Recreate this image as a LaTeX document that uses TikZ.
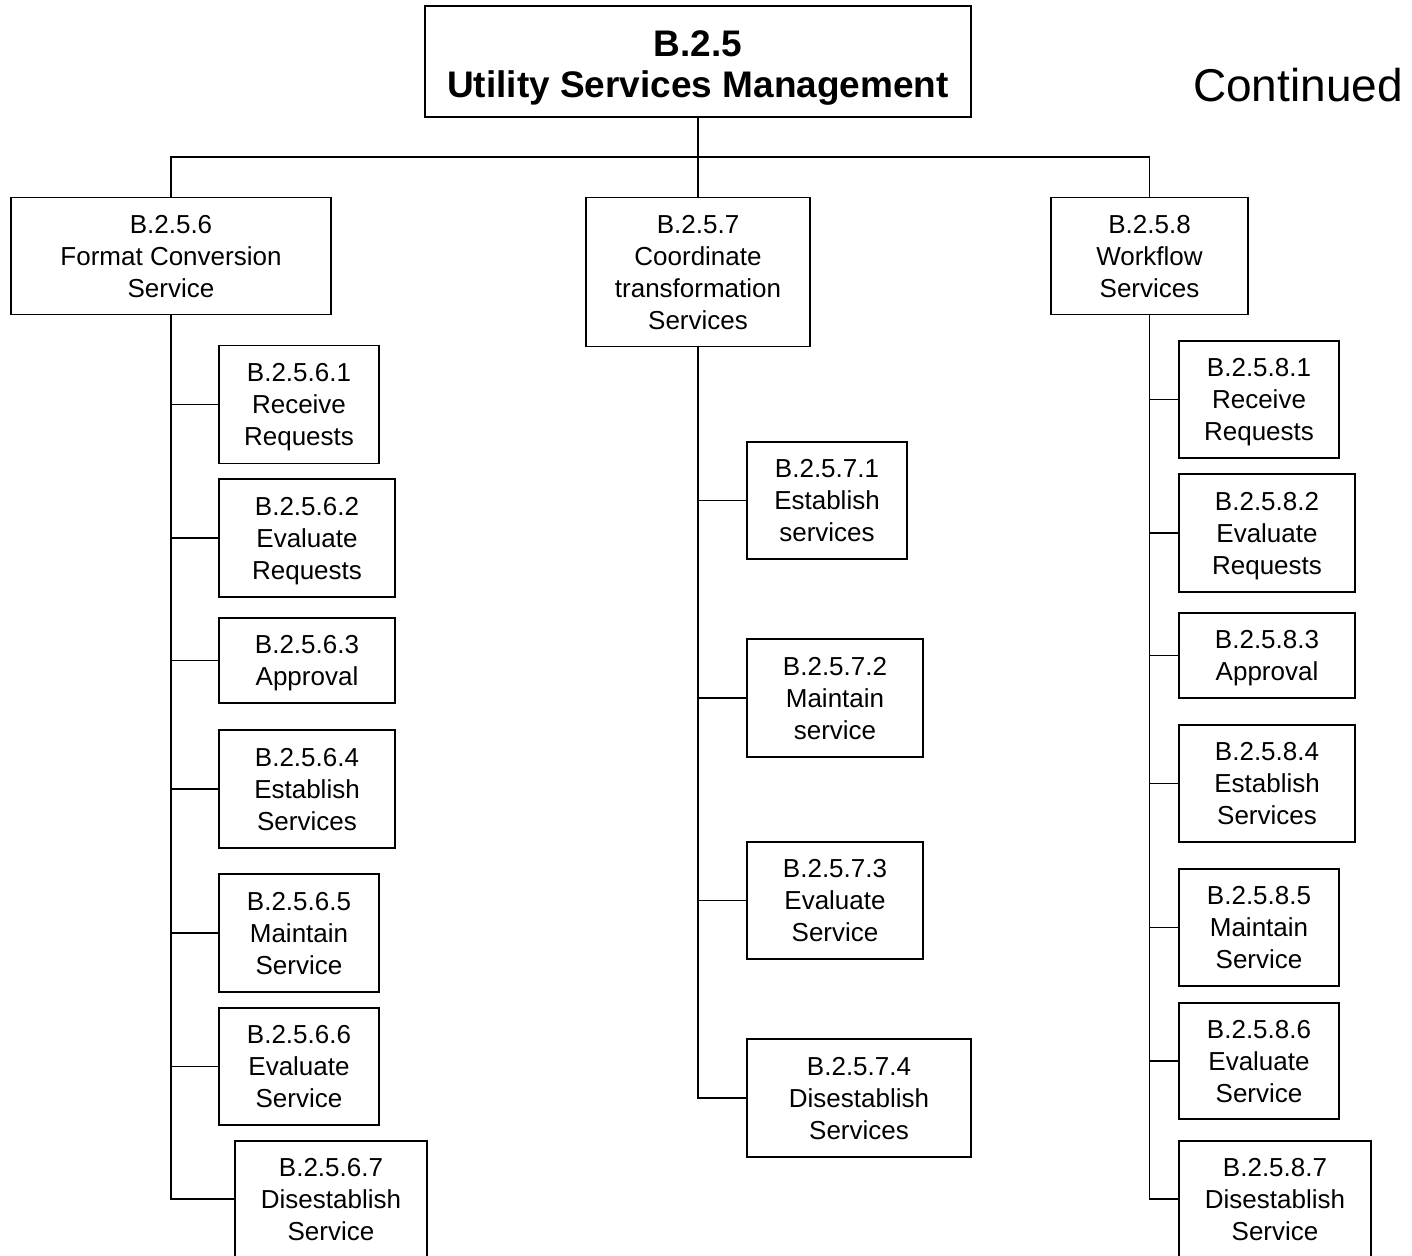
\documentclass[tikz,border=0pt]{standalone}
\usepackage{fontspec}
\setmainfont{Liberation Sans}
\begin{document}
\begin{tikzpicture}[x=1pt,y=-1pt,
  box/.style={draw, line width=1.5pt, inner sep=0pt, align=center, text depth=-2pt,
    font=\fontsize{26}{32}\selectfont},
  rootbox/.style={draw, line width=1.6pt, inner sep=0pt, align=center, text height=79.5pt,
    font=\fontsize{37}{41}\selectfont\bfseries},
  conn/.style={line width=1.5pt}]
\useasboundingbox (0,0) rectangle (1412,1255);
\clip (0,0) rectangle (1412,1255);
% root
\node[rootbox, minimum width=546pt, minimum height=111pt] (root) at (698,61.5) {B.2.5\\Utility Services Management};
\node[font=\fontsize{46}{50}\selectfont, inner sep=0pt] (cont) at (1298,85) {Continued};
% level 1
\node[box, minimum width=320pt, minimum height=117pt] (n6) at (171,256) {B.2.5.6\\Format Conversion\\Service};
\node[box, minimum width=224pt, minimum height=149pt] (n7) at (698,272) {B.2.5.7\\Coordinate\\transformation\\Services};
\node[box, minimum width=197pt, minimum height=117pt] (n8) at (1149.5,256) {B.2.5.8\\Workflow\\Services};
% left column
\node[box, minimum width=160pt, minimum height=118pt] (n61) at (299,404.5) {B.2.5.6.1\\Receive\\Requests};
\node[box, minimum width=176pt, minimum height=118pt] (n62) at (307,538) {B.2.5.6.2\\Evaluate\\Requests};
\node[box, minimum width=176pt, minimum height=85pt] (n63) at (307,660.5) {B.2.5.6.3\\Approval};
\node[box, minimum width=176pt, minimum height=118pt] (n64) at (307,789) {B.2.5.6.4\\Establish\\Services};
\node[box, minimum width=160pt, minimum height=118pt] (n65) at (299,933) {B.2.5.6.5\\Maintain\\Service};
\node[box, minimum width=160pt, minimum height=117pt] (n66) at (299,1066.5) {B.2.5.6.6\\Evaluate\\Service};
\node[box, minimum width=192pt, minimum height=116pt] (n67) at (331,1199) {B.2.5.6.7\\Disestablish\\Service};
% middle column
\node[box, minimum width=160pt, minimum height=117pt] (n71) at (827,500.5) {B.2.5.7.1\\Establish\\services};
\node[box, minimum width=176pt, minimum height=118pt] (n72) at (835,698) {B.2.5.7.2\\Maintain\\service};
\node[box, minimum width=176pt, minimum height=117pt] (n73) at (835,900.5) {B.2.5.7.3\\Evaluate\\Service};
\node[box, minimum width=224pt, minimum height=118pt] (n74) at (859,1098) {B.2.5.7.4\\Disestablish\\Services};
% right column
\node[box, minimum width=160pt, minimum height=117pt] (n81) at (1259,399.5) {B.2.5.8.1\\Receive\\Requests};
\node[box, minimum width=176pt, minimum height=118pt] (n82) at (1267,533) {B.2.5.8.2\\Evaluate\\Requests};
\node[box, minimum width=176pt, minimum height=85pt] (n83) at (1267,655.5) {B.2.5.8.3\\Approval};
\node[box, minimum width=176pt, minimum height=117pt] (n84) at (1267,783.5) {B.2.5.8.4\\Establish\\Services};
\node[box, minimum width=160pt, minimum height=117pt] (n85) at (1259,927.5) {B.2.5.8.5\\Maintain\\Service};
\node[box, minimum width=160pt, minimum height=116pt] (n86) at (1259,1061) {B.2.5.8.6\\Evaluate\\Service};
\node[box, minimum width=192pt, minimum height=116pt] (n87) at (1275,1199) {B.2.5.8.7\\Disestablish\\Service};
% connectors
\coordinate (bus) at (698,157);
\draw[conn] (root.south) -- (n7.north);
\draw[conn] (n6.north) -- (n6.north |- bus) -| (n8.north);
\draw[conn] (n6.south) |- (n67.west);
\foreach \c in {n61,n62,n63,n64,n65,n66}
  \draw[conn] (\c.west) -- (\c.west -| n6.south);
\draw[conn] (n7.south) |- (n74.west);
\foreach \c in {n71,n72,n73}
  \draw[conn] (\c.west) -- (\c.west -| n7.south);
\draw[conn] (n8.south) |- (n87.west);
\foreach \c in {n81,n82,n83,n84,n85,n86}
  \draw[conn] (\c.west) -- (\c.west -| n8.south);
\end{tikzpicture}
\end{document}
